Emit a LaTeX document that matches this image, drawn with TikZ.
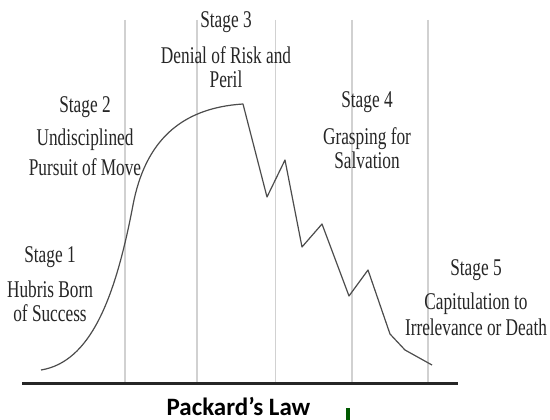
\documentclass[tikz,border=0pt]{standalone}
\usepackage{fontspec}
\usepackage{graphicx}
\newfontfamily\calib{Carlito}
\newfontfamily\stagefont{Liberation Serif}
\newcommand{\blk}[1]{\scalebox{0.72}[1]{\begin{tabular}[t]{@{}c@{}}#1\end{tabular}}}
\tikzset{
  stagetext/.style={anchor=base, inner sep=0pt, text=black!85, font=\stagefont\fontsize{24}{24}\selectfont},
  gridline/.style={draw=black!18, line width=1.3pt},
  axisline/.style={draw=black!85, line width=3pt},
  lifecurve/.style={draw=black!70, line width=1.2pt, line join=round},
  titletext/.style={anchor=base, inner sep=0pt, font=\calib\bfseries\fontsize{25}{28}\selectfont},
}
\begin{document}
\begin{tikzpicture}[x=1pt,y=-1pt]
\useasboundingbox (0,0) rectangle (550,420);
\fill[white] (0,0) rectangle (550,420);
% grid lines
\foreach \xx in {125,197,275.5,352,428}
  \draw[gridline] (\xx,20) -- (\xx,382);
% axis
\draw[axisline] (22,383) -- (458,383);
% curve
\draw[lifecurve] (41,370) .. controls (90,362) and (115,300) .. (133,205)
  .. controls (145,142) and (180,108) .. (243,104)
  -- (267,197) -- (285,160) -- (302,247) -- (322,224) -- (349,296) -- (368,270) -- (390,334) -- (405,350) -- (432,365);
% stage texts
\node[stagetext] (s1) at (50,262) {\blk{Stage 1\\[11pt]Hubris Born\\of Success}};
\node[stagetext] (s2) at (85,113) {\blk{Stage 2\\[9pt]Undisciplined\\[5pt]Pursuit of Move}};
\node[stagetext] (s3) at (226,28) {\blk{Stage 3\\[11pt]Denial of Risk and\\Peril}};
\node[stagetext] (s4) at (367,108) {\blk{Stage 4\\[12pt]Grasping for\\Salvation}};
\node[stagetext] (s5) at (476,275) {\blk{Stage 5\\[11pt]Capitulation to\\[2pt]Irrelevance or Death}};
% title
\node[titletext] (title) at (238.5,415) {Packard’s Law};
\fill[green!35!black] (346,408) rectangle (350,420);
\end{tikzpicture}
\end{document}
